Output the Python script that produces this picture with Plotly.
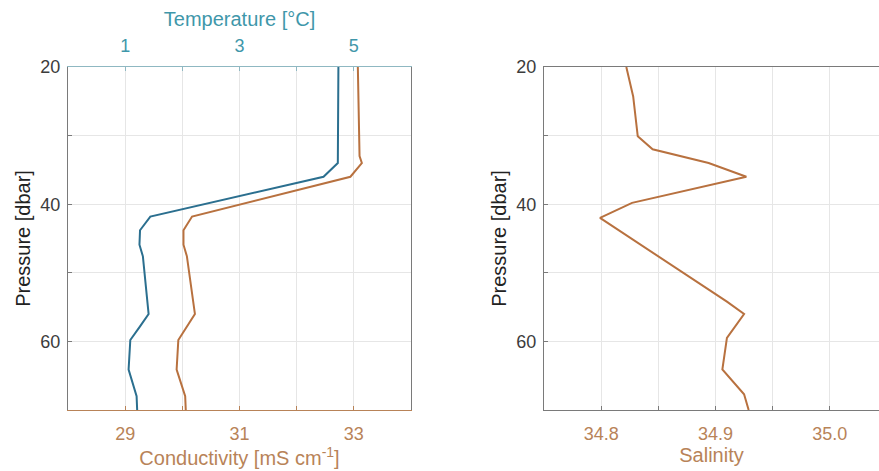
import plotly.graph_objects as go

# CTD profile: temperature & conductivity (left panel)
pressure_tc = [20, 33, 34, 36, 41.8, 43.8, 45.9, 47.6, 56.0, 57.8, 59.8, 64.1, 68.0, 70]
temperature = [4.73, 4.73, 4.72, 4.47, 1.44, 1.26, 1.25, 1.31, 1.41, 1.26, 1.09, 1.06, 1.20, 1.21]
conductivity = [33.07, 33.10, 33.14, 32.94, 30.17, 30.02, 30.02, 30.08, 30.22, 30.08, 29.93, 29.90, 30.05, 30.06]

# Salinity profile (right panel)
pressure_sal = [20, 24.3, 30.1, 32.0, 34.0, 36.0, 39.8, 42.0, 54.2, 56.0, 59.5, 64.1, 67.7, 70]
salinity = [34.822, 34.828, 34.832, 34.845, 34.894, 34.927, 34.827, 34.799, 34.910, 34.925, 34.910, 34.906, 34.925, 34.929]

# Labelled ticks and the unlabelled ticks between them
p_ticks = [20, 40, 60]
p_minor = [30, 50, 70]
t_ticks = [1, 3, 5]
t_minor = [0, 2, 4, 6]
c_ticks = [29, 31, 33]
c_minor = [28, 30, 32, 34]
s_ticks = [34.8, 34.9, 35.0]
s_minor = [34.75, 34.85, 34.95, 35.05]

TEAL = "#3f97aa"
TEAL_LINE = "#8fb8c2"
BLUE = "#2b6f8f"
ORANGE = "#b8713f"
TAN = "#b88358"
GRID = "#e6e6e6"
AXIS = "#7a7a7a"
TXT = "#3c3c3c"
FONT = "Liberation Sans, Arial, sans-serif"

W, H = 879, 471
x0, x1 = 68, 411          # left panel, px
xs0 = 544                 # right panel left edge, px
px_per_unit = (x1 - x0) / 6.0

TICK_SIZE = 18
TITLE_SIZE = 20

fig = go.Figure()

fig.add_trace(go.Scatter(x=temperature, y=pressure_tc, xaxis="x2", yaxis="y",
                         mode="lines", line=dict(color=BLUE, width=2), showlegend=False))
fig.add_trace(go.Scatter(x=conductivity, y=pressure_tc, xaxis="x", yaxis="y",
                         mode="lines", line=dict(color=ORANGE, width=2), showlegend=False))
fig.add_trace(go.Scatter(x=salinity, y=pressure_sal, xaxis="x3", yaxis="y3",
                         mode="lines", line=dict(color=ORANGE, width=2), showlegend=False))

sal_right = 34.75 + (W - xs0) / px_per_unit * 0.05


def minor_spec(vals, color, grid=True):
    return dict(tickvals=vals, ticks="inside", ticklen=4, tickcolor=color,
                showgrid=grid, gridcolor=GRID, gridwidth=1)


yaxis_common = dict(
    range=[70, 20], tickvals=p_ticks, minor=minor_spec(p_minor, AXIS),
    showgrid=True, gridcolor=GRID, gridwidth=1, zeroline=False,
    showline=True, linecolor=AXIS, linewidth=1,
    ticks="inside", ticklen=4, tickcolor=AXIS,
    tickfont=dict(family=FONT, size=TICK_SIZE, color=TXT), ticklabelstandoff=3,
    title=dict(text="Pressure [dbar]", font=dict(family=FONT, size=TITLE_SIZE, color="#222"), standoff=4),
)

fig.update_layout(
    width=W, height=H,
    margin=dict(l=0, r=0, t=67, b=61),
    paper_bgcolor="white", plot_bgcolor="white",
    font=dict(family=FONT),
    xaxis=dict(
        domain=[x0 / W, x1 / W], anchor="y", side="bottom",
        range=[28, 34], tickvals=c_ticks, minor=minor_spec(c_minor, TAN),
        showgrid=True, gridcolor=GRID, zeroline=False,
        showline=True, linecolor=TAN, linewidth=1,
        ticks="inside", ticklen=4, tickcolor=TAN,
        tickfont=dict(family=FONT, size=TICK_SIZE, color=TAN), ticklabelstandoff=7,
        title=dict(text="Conductivity [mS cm<sup>-1</sup>]",
                   font=dict(family=FONT, size=TITLE_SIZE, color=TAN), standoff=4),
    ),
    xaxis2=dict(
        overlaying="x", anchor="y", side="top",
        range=[0, 6], tickvals=t_ticks, minor=minor_spec(t_minor, TEAL_LINE, grid=False),
        showgrid=False, zeroline=False,
        showline=True, linecolor=TEAL_LINE, linewidth=1,
        ticks="inside", ticklen=4, tickcolor=TEAL_LINE,
        tickfont=dict(family=FONT, size=TICK_SIZE, color=TEAL), ticklabelstandoff=7,
        title=dict(text="Temperature [°C]",
                   font=dict(family=FONT, size=TITLE_SIZE, color=TEAL), standoff=3),
    ),
    yaxis=dict(domain=[0, 1], anchor="x", mirror=True, **yaxis_common),
    xaxis3=dict(
        domain=[xs0 / W, 1.0], anchor="y3", side="bottom",
        range=[34.75, sal_right], tickvals=s_ticks, tickformat=".1f",
        minor=minor_spec(s_minor, AXIS),
        showgrid=True, gridcolor=GRID, zeroline=False,
        showline=True, linecolor=AXIS, linewidth=1, mirror=True,
        ticks="inside", ticklen=4, tickcolor=AXIS,
        tickfont=dict(family=FONT, size=TICK_SIZE, color=TAN), ticklabelstandoff=7,
        title=dict(text="Salinity", font=dict(family=FONT, size=TITLE_SIZE, color=TAN), standoff=4),
    ),
    yaxis3=dict(domain=[0, 1], anchor="x3", mirror=False, **yaxis_common),
)

fig.write_html("out.html")
